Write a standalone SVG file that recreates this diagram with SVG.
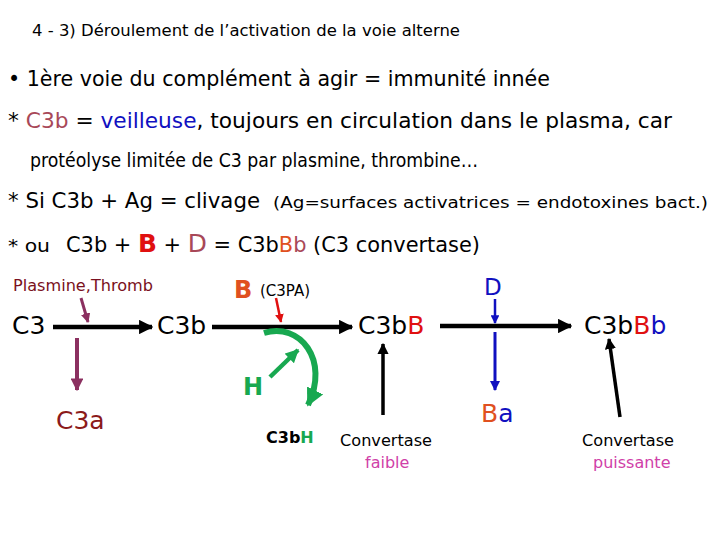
<svg xmlns="http://www.w3.org/2000/svg" width="720" height="540" viewBox="0 0 720 540">
<style>
text{font-family:"DejaVu Sans","Liberation Sans",sans-serif;fill:#000}
.t{font-size:21px}
.n{font-size:25px}
.red{fill:#E01010}
.org{fill:#E05020}
.blu{fill:#1010C0}
.brn{fill:#A84858}
.grn{fill:#18A850}
.pnk{fill:#D040A8}
.conn{fill:none}
</style>
<defs>
<marker id="ah" viewBox="0 0 10 10" refX="9" refY="5" markerWidth="3.2" markerHeight="3.2" orient="auto" markerUnits="strokeWidth"><path d="M0,0L10,5L0,10z" fill="#000"/></marker>
<marker id="ahp" viewBox="0 0 10 10" refX="9" refY="5" markerWidth="3.2" markerHeight="3.2" orient="auto" markerUnits="strokeWidth"><path d="M0,0L10,5L0,10z" fill="#8B3060"/></marker>
<marker id="ahr" viewBox="0 0 10 10" refX="9" refY="5" markerWidth="3.5" markerHeight="3.5" orient="auto" markerUnits="strokeWidth"><path d="M0,0L10,5L0,10z" fill="#E01010"/></marker>
<marker id="ahb" viewBox="0 0 10 10" refX="9" refY="5" markerWidth="3.5" markerHeight="3.5" orient="auto" markerUnits="strokeWidth"><path d="M0,0L10,5L0,10z" fill="#1010C0"/></marker>
<marker id="ahg" viewBox="0 0 10 10" refX="9" refY="5" markerWidth="3" markerHeight="3" orient="auto" markerUnits="strokeWidth"><path d="M0,0L10,5L0,10z" fill="#18A850"/></marker>
</defs>
<rect width="720" height="540" fill="#fff"/>

<g id="header">
<text x="32" y="36" font-size="15" textLength="428" lengthAdjust="spacingAndGlyphs">4 - 3) Déroulement de l’activation de la voie alterne</text>
<text x="8" y="86" class="t" textLength="542" lengthAdjust="spacingAndGlyphs">• 1ère voie du complément à agir = immunité innée</text>
<text x="8" y="128" class="t" textLength="664" lengthAdjust="spacingAndGlyphs">* <tspan class="brn">C3b</tspan> = <tspan class="blu">veilleuse</tspan>, toujours en circulation dans le plasma, car</text>
<text x="30" y="167" font-size="20" textLength="448" lengthAdjust="spacingAndGlyphs">protéolyse limitée de C3 par plasmine, thrombine…</text>
<text x="8" y="208" class="t" textLength="252" lengthAdjust="spacingAndGlyphs">* Si C3b + Ag = clivage</text>
<text x="273" y="208" font-size="16" textLength="435" lengthAdjust="spacingAndGlyphs">(Ag=surfaces activatrices = endotoxines bact.)</text>
<text x="8" y="252" font-size="18" textLength="42" lengthAdjust="spacingAndGlyphs">* ou</text>
<text x="66" y="252" class="t" textLength="414" lengthAdjust="spacingAndGlyphs">C3b + <tspan class="red" font-weight="bold" font-size="25">B</tspan> + <tspan class="brn" font-size="25">D</tspan> = C3b<tspan class="org">B</tspan><tspan class="brn">b</tspan> (C3 convertase)</text>
</g>

<g id="connectors">
<line x1="53" y1="327" x2="152" y2="327" stroke="#000" stroke-width="4.5" marker-end="url(#ah)"/>
<line x1="212" y1="327" x2="352" y2="327" stroke="#000" stroke-width="4.5" marker-end="url(#ah)"/>
<line x1="440" y1="326" x2="571" y2="326" stroke="#000" stroke-width="4.5" marker-end="url(#ah)"/>
<line x1="81" y1="298" x2="88" y2="322" stroke="#8B3060" stroke-width="3" marker-end="url(#ahp)"/>
<line x1="77" y1="338" x2="77" y2="390" stroke="#8B3060" stroke-width="4" marker-end="url(#ahp)"/>
<line x1="276" y1="298" x2="281" y2="322" stroke="#E01010" stroke-width="2.5" marker-end="url(#ahr)"/>
<line x1="495" y1="299" x2="495" y2="323" stroke="#1010C0" stroke-width="2.5" marker-end="url(#ahb)"/>
<line x1="495" y1="332" x2="495" y2="390" stroke="#1010C0" stroke-width="3" marker-end="url(#ahb)"/>
<path class="conn" d="M264,333 C300,322 330,360 308,405" stroke="#18A850" stroke-width="6" marker-end="url(#ahg)"/>
<line x1="270" y1="377" x2="298" y2="350" stroke="#18A850" stroke-width="4.5" marker-end="url(#ahg)"/>
<line x1="383" y1="415" x2="383" y2="344" stroke="#000" stroke-width="3.5" marker-end="url(#ah)"/>
<line x1="620" y1="417" x2="609" y2="339" stroke="#000" stroke-width="3.5" marker-end="url(#ah)"/>
</g>

<g id="plasmine"><text x="13" y="291" font-size="16" style="fill:#7A1020" textLength="140" lengthAdjust="spacingAndGlyphs">Plasmine,Thromb</text></g>
<g id="c3"><text x="12" y="334" class="n">C3</text></g>
<g id="c3b"><text x="157" y="334" class="n">C3b</text></g>
<g id="c3a"><text x="56" y="429" class="n" style="fill:#8B1A1A">C3a</text></g>
<g id="b"><text x="234" y="298" font-size="24" font-weight="bold" class="org">B</text><text x="260" y="296" font-size="15">(C3PA)</text></g>
<g id="h"><text x="243" y="395" font-size="24" font-weight="bold" class="grn">H</text></g>
<g id="c3bh"><text x="266" y="443" font-size="16" font-weight="bold">C3b<tspan class="grn">H</tspan></text></g>
<g id="c3bB"><text x="358" y="334" class="n">C3b<tspan class="red">B</tspan></text></g>
<g id="d"><text x="484" y="295" font-size="23" class="blu">D</text></g>
<g id="ba"><text x="481" y="422" font-size="25"><tspan class="org">B</tspan><tspan class="blu">a</tspan></text></g>
<g id="c3bBb"><text x="584" y="334" class="n">C3b<tspan class="red">B</tspan><tspan class="blu">b</tspan></text></g>
<g id="faible"><text x="340" y="446" font-size="16" textLength="92" lengthAdjust="spacingAndGlyphs">Convertase</text><text x="365" y="468" font-size="16" class="pnk">faible</text></g>
<g id="puissante"><text x="582" y="446" font-size="16" textLength="92" lengthAdjust="spacingAndGlyphs">Convertase</text><text x="593" y="468" font-size="16" class="pnk">puissante</text></g>
</svg>
